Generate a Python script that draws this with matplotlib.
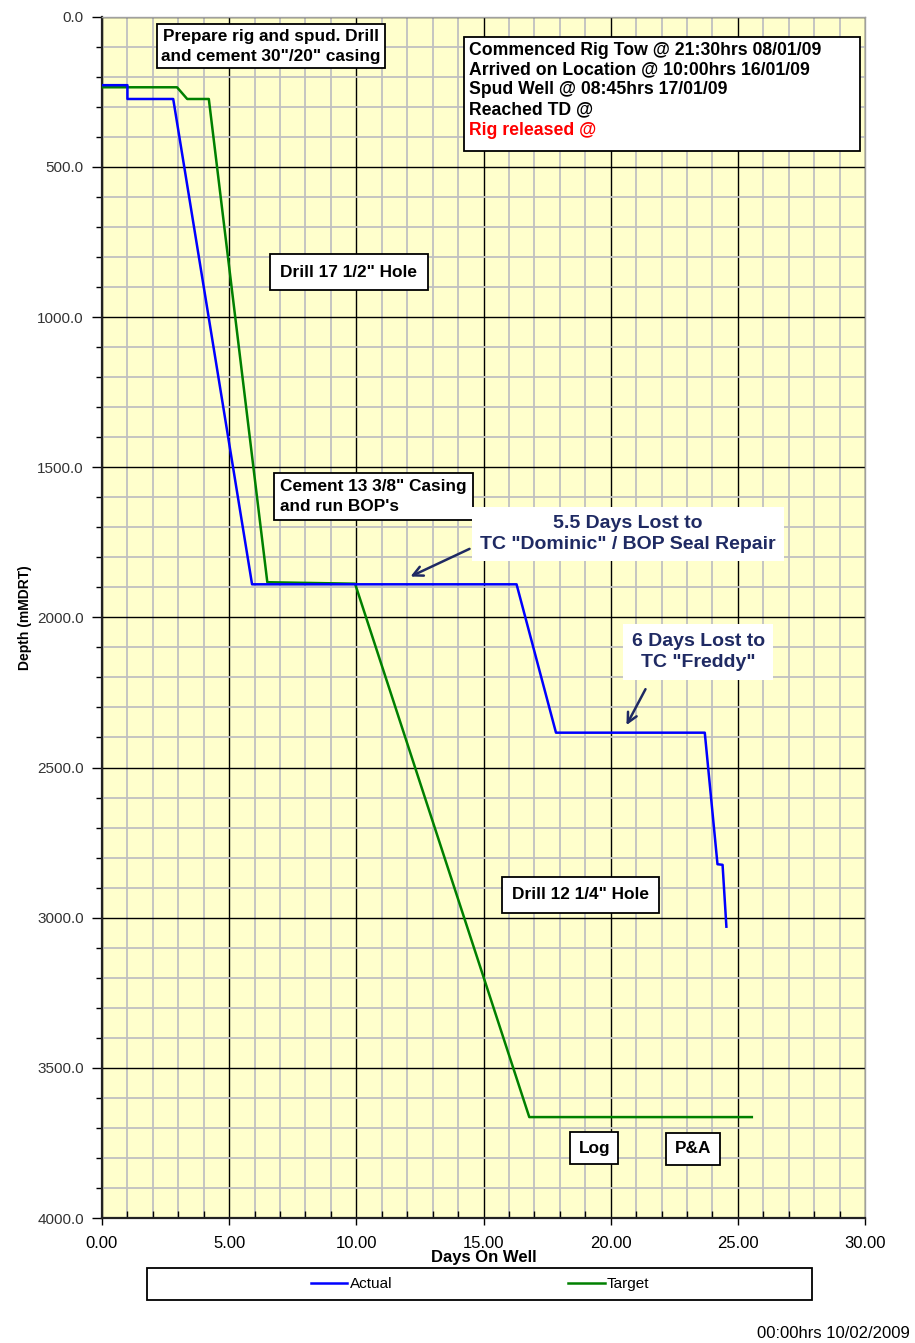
import matplotlib
matplotlib.use("Agg")
from matplotlib import pyplot as plt
from matplotlib.patches import Rectangle
from matplotlib.ticker import MultipleLocator, FormatStrFormatter

# 数据
actual_days = [0.0, 1.0, 1.0, 2.8, 5.9, 16.3, 17.85, 23.7, 24.2, 24.4, 24.55]
actual_depth = [228, 228, 274, 274, 1890, 1890, 2384, 2384, 2822, 2824, 3030]

target_days = [0.0, 2.95, 3.35, 4.2, 6.5, 9.95, 16.8, 25.55]
target_depth = [235, 235, 274, 274, 1883, 1888, 3664, 3664]

series_labels = ["Actual", "Target"]
info_lines = ["Commenced Rig Tow @ 21:30hrs 08/01/09",
              "Arrived on Location @ 10:00hrs 16/01/09",
              "Spud Well @ 08:45hrs 17/01/09",
              "Reached TD @",
              "Rig released @"]

BOLD = ["Liberation Sans", "DejaVu Sans"]
NARROW = ["Liberation Sans Narrow", "Liberation Sans", "DejaVu Sans"]
NAVY = "#1f2a63"

fig = plt.figure(figsize=(9.15, 13.43), dpi=100)
W, H = 915, 1343
ax = fig.add_axes([102 / W, 1 - 1218 / H, (865 - 102) / W, (1218 - 16.7) / H])
ax.set_facecolor("#ffffcc")

ax.set_xlim(0, 30)
ax.set_ylim(4000, 0)
ax.xaxis.set_major_locator(MultipleLocator(5))
ax.xaxis.set_minor_locator(MultipleLocator(1))
ax.yaxis.set_major_locator(MultipleLocator(500))
ax.yaxis.set_minor_locator(MultipleLocator(100))
ax.xaxis.set_major_formatter(FormatStrFormatter("%.2f"))
ax.yaxis.set_major_formatter(FormatStrFormatter("%.1f"))

ax.grid(which="minor", color="#c0c0c0", lw=1.3, zorder=0)
ax.grid(which="major", color="black", lw=1.0, zorder=0)
ax.set_axisbelow(True)

for s in ["left", "bottom"]:
    ax.spines[s].set_color("#222222")
    ax.spines[s].set_linewidth(1.6)
for s in ["top", "right"]:
    ax.spines[s].set_color("#a0a0a0")
    ax.spines[s].set_linewidth(1.0)

ax.tick_params(axis="y", which="major", length=7, width=1, direction="out", pad=6)
ax.tick_params(axis="y", which="minor", length=4, width=1, direction="out")
ax.tick_params(axis="x", which="major", length=5, width=1, direction="out", pad=8)
ax.tick_params(axis="x", which="minor", length=5, width=1, direction="in")
for lab in ax.get_yticklabels():
    lab.set_family(BOLD)
    lab.set_fontsize(11)
    lab.set_color("#333333")
for lab in ax.get_xticklabels():
    lab.set_family(NARROW)
    lab.set_fontsize(12)

ax.set_xlabel("Days On Well", family=NARROW, fontsize=12, fontweight="bold", labelpad=-1)
ax.set_ylabel("Depth (mMDRT)", family=NARROW, fontsize=10, fontweight="bold", labelpad=4)

l1, = ax.plot(actual_days, actual_depth, color="#0000ff", lw=1.8, zorder=4)
l2, = ax.plot(target_days, target_depth, color="#008000", lw=1.8, zorder=3)

FS = 12.4
box = dict(boxstyle="square,pad=0.6", fc="white", ec="black", lw=1.3)

ax.text(6.65, 98, "Prepare rig and spud. Drill\nand cement 30\"/20\" casing",
        ha="center", va="center", family=BOLD, fontsize=FS, fontweight="bold",
        linespacing=1.4, bbox=dict(boxstyle="square,pad=0.25", fc="white", ec="black", lw=1.3), zorder=6)

# 右上角信息框
ax.add_patch(Rectangle((14.24, 68), 29.8 - 14.24, 448 - 68, fc="white", ec="black", lw=1.3, zorder=6))
for i, (line, dep) in enumerate(zip(info_lines, [111, 178, 244, 311, 378])):
    ax.text(14.43, dep, line, ha="left", va="center", family=BOLD, fontsize=12.7,
            fontweight="bold", color="red" if i == 4 else "black", zorder=7)

ax.text(9.71, 851, "Drill 17 1/2\" Hole", ha="center", va="center", family=BOLD,
        fontsize=FS, fontweight="bold", bbox=box, zorder=6)
ax.text(7.0, 1598, "Cement 13 3/8\" Casing\nand run BOP's", ha="left", va="center",
        family=BOLD, fontsize=FS, fontweight="bold", linespacing=1.4,
        bbox=dict(boxstyle="square,pad=0.35", fc="white", ec="black", lw=1.3), zorder=6)
ax.text(18.82, 2924, "Drill 12 1/4\" Hole", ha="center", va="center", family=BOLD,
        fontsize=FS, fontweight="bold", bbox=box, zorder=6)
ax.text(19.35, 3767, "Log", ha="center", va="center", family=BOLD,
        fontsize=FS, fontweight="bold", bbox=dict(boxstyle="square,pad=0.5", fc="white", ec="black", lw=1.3), zorder=6)
ax.text(23.23, 3770, "P&A", ha="center", va="center", family=BOLD,
        fontsize=FS, fontweight="bold", bbox=dict(boxstyle="square,pad=0.5", fc="white", ec="black", lw=1.3), zorder=6)

nb = dict(boxstyle="square,pad=0.4", fc="white", ec="none")
ax.text(20.68, 1722, "5.5 Days Lost to\nTC \"Dominic\" / BOP Seal Repair", ha="center",
        va="center", family=BOLD, fontsize=14, fontweight="bold", color=NAVY,
        linespacing=1.3, bbox=nb, zorder=6)
ax.text(23.44, 2115, "6 Days Lost to\nTC \"Freddy\"", ha="center", va="center",
        family=BOLD, fontsize=14, fontweight="bold", color=NAVY, linespacing=1.3,
        bbox=dict(boxstyle="square,pad=0.45", fc="white", ec="none"), zorder=6)

arrow = dict(arrowstyle="->,head_length=0.7,head_width=0.35", color=NAVY, lw=1.8)
ax.annotate("", xy=(12.03, 1868), xytext=(14.55, 1768), arrowprops=arrow, zorder=7)
ax.annotate("", xy=(20.57, 2367), xytext=(21.42, 2231), arrowprops=arrow, zorder=7)

# 图例
fig.add_artist(Rectangle((147 / W, 1 - 1300 / H), (812 - 147) / W, 32 / H,
                         transform=fig.transFigure, fc="white", ec="black", lw=1.3))
fig.legend([l1, l2], series_labels, loc="center", bbox_to_anchor=(480 / W, 1 - 1284 / H),
           ncol=2, frameon=False, columnspacing=11.5, handlelength=2.4, handletextpad=0.15,
           prop={"family": NARROW, "size": 11})

fig.text(910 / W, 1 - 1333 / H, "00:00hrs 10/02/2009", ha="right", va="center",
         family=NARROW, fontsize=12)

fig.savefig("out.png", dpi=100, facecolor="white")
